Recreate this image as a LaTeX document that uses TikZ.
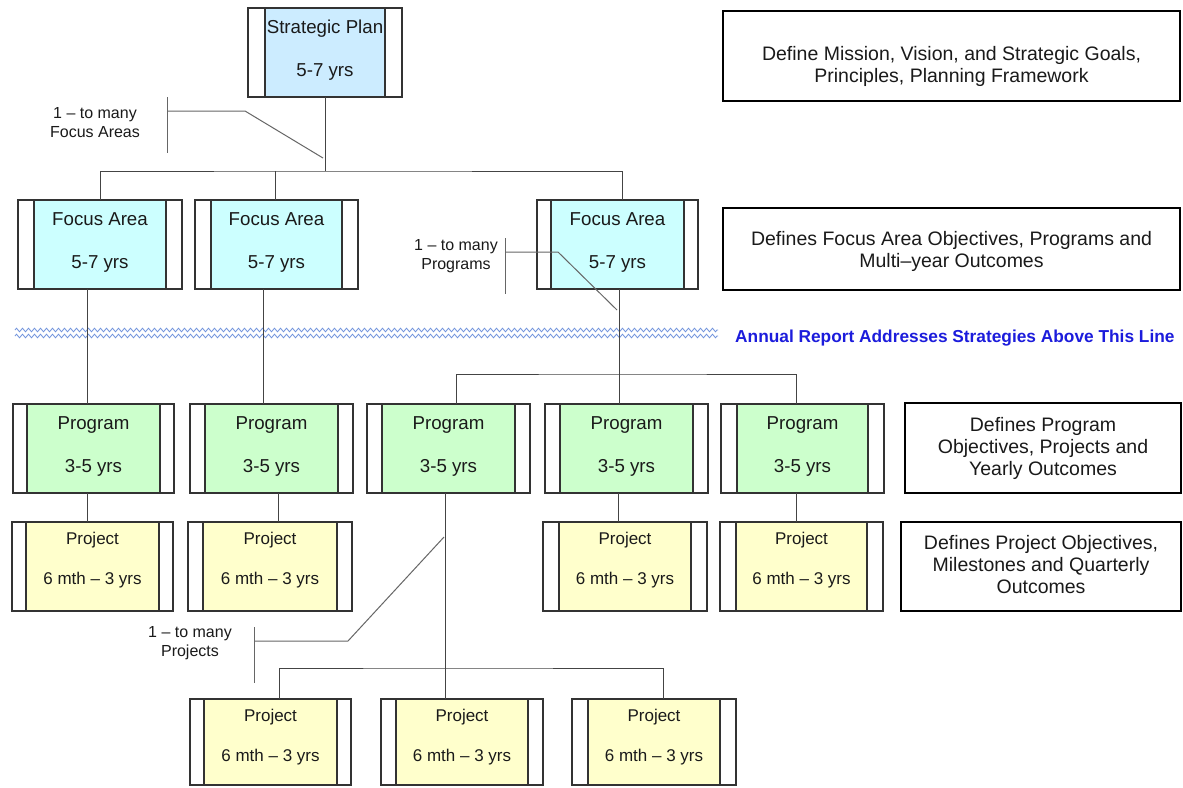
\documentclass[tikz,border=0pt]{standalone}
\usepackage{fontspec}
\setmainfont{Liberation Sans}
\usetikzlibrary{decorations.pathmorphing}

\definecolor{spblue}{HTML}{CCECFF}
\definecolor{facyan}{HTML}{CCFFFF}
\definecolor{pgreen}{HTML}{CCFFCC}
\definecolor{pyellow}{HTML}{FFFFCC}
\definecolor{boxline}{HTML}{333333}
\definecolor{textcol}{HTML}{1A1A1A}
\definecolor{linegray}{HTML}{444444}
\definecolor{notegray}{HTML}{666666}
\definecolor{wavecol}{RGB}{110,145,220}
\definecolor{annualblue}{RGB}{28,28,220}

\tikzset{
  proc/.style 2 args={draw=boxline, line width=1.1pt, fill=white, inner sep=0pt,
    outer sep=0pt, anchor=north west,
    path picture={
      \fill[#1] ([xshift=#2pt]path picture bounding box.south west)
        rectangle ([xshift=-#2pt]path picture bounding box.north east);
      \draw[boxline, line width=1.1pt]
        ([xshift=#2pt]path picture bounding box.south west) --
        ([xshift=#2pt]path picture bounding box.north west)
        ([xshift=-#2pt]path picture bounding box.south east) --
        ([xshift=-#2pt]path picture bounding box.north east);
    }},
  boxtext/.style={anchor=base, inner sep=0pt, text=textcol,
    font=\fontsize{18.7}{22}\selectfont},
  projtext/.style={anchor=base, inner sep=0pt, text=textcol,
    font=\fontsize{17}{20}\selectfont},
  descbox/.style={draw=black, line width=2.2pt, fill=white, inner sep=0pt,
    outer sep=0pt, anchor=north west},
  desctext/.style={align=center, inner sep=0pt, text=textcol,
    font=\fontsize{19.5}{22}\selectfont},
  notetext/.style={align=center, inner sep=0pt, text=textcol,
    font=\fontsize{16}{19}\selectfont},
  conn/.style={draw=linegray, line width=1pt},
  note/.style={draw=notegray, line width=1pt},
  wave/.style={draw=wavecol, line width=0.8pt,
    decorate, decoration={zigzag, segment length=6pt, amplitude=1.8pt}},
}

% name, fill, inset, left, top, width, height, first line, second line
\newcommand\procbox[9]{%
  \node[proc={#2}{#3}, minimum width=#6pt, minimum height=#7pt] (#1) at (#4,#5) {};
  \node[boxtext] (#1-a) at ({#4+#6/2},{#5+25}) {#8};
  \node[boxtext] (#1-b) at ({#4+#6/2},{#5+68}) {#9};
}
% name, inset, left, top, width, height
\newcommand\projbox[6]{%
  \node[proc={pyellow}{#2}, minimum width=#5pt, minimum height=#6pt] (#1) at (#3,#4) {};
  \node[projtext] (#1-a) at ({#3+#5/2},{#4+22}) {Project};
  \node[projtext] (#1-b) at ({#3+#5/2},{#4+62}) {6 mth \textendash{} 3 yrs};
}

\begin{document}
\begin{tikzpicture}[x=1pt, y=-1pt]
\useasboundingbox (0,0) rectangle (1183,787);
\fill[white] (0,0) rectangle (1183,787);

% dividing line for the annual report
\coordinate (wl1) at (15,330);  \coordinate (wr1) at (718,330);
\coordinate (wl2) at (15,336);  \coordinate (wr2) at (718,336);
\draw[wave] (wl1) -- (wr1);
\draw[wave] (wl2) -- (wr2);
\node[anchor=west, inner sep=0pt, text=annualblue,
  font=\fontsize{17.3}{20}\selectfont\bfseries] (annual) at (735,338)
  {Annual Report Addresses Strategies Above This Line};

% hierarchy boxes
\procbox{sp}{spblue}{17}{248}{8}{154}{89}{Strategic Plan}{5-7 yrs}

\procbox{fa1}{facyan}{16}{18}{200}{164}{89}{Focus Area}{5-7 yrs}
\procbox{fa2}{facyan}{16}{195}{200}{163}{89}{Focus Area}{5-7 yrs}
\procbox{fa3}{facyan}{14}{537}{200}{161}{89}{Focus Area}{5-7 yrs}

\procbox{p1}{pgreen}{14}{13}{404}{161}{89}{Program}{3-5 yrs}
\procbox{p2}{pgreen}{15}{190}{404}{163}{89}{Program}{3-5 yrs}
\procbox{p3}{pgreen}{15}{367}{404}{163}{89}{Program}{3-5 yrs}
\procbox{p4}{pgreen}{15}{545}{404}{163}{89}{Program}{3-5 yrs}
\procbox{p5}{pgreen}{16}{721}{404}{163}{89}{Program}{3-5 yrs}

\projbox{pj1}{14}{12}{522}{161}{89}
\projbox{pj2}{15}{188}{522}{164}{89}
\projbox{pj4}{16}{543}{522}{164}{89}
\projbox{pj5}{16}{720}{522}{163}{89}

\projbox{pb1}{14}{190}{699}{161}{86}
\projbox{pb2}{15}{381}{699}{162}{86}
\projbox{pb3}{16}{572}{699}{164}{86}

% strategic plan to focus areas
\coordinate (spbar) at (325,171);
\draw[conn] (sp.south) -- (spbar);
\draw[conn] (fa1.north) |- (spbar) -| (fa3.north -| 622,0);
\draw[conn] (fa2.north -| 275,0) -- (275,171);

% focus areas to programs
\draw[conn] (fa1.south -| 87,0) -- (p1.north -| 87,0);
\draw[conn] (fa2.south -| 263,0) -- (p2.north -| 263,0);
\coordinate (pbar) at (619,374);
\draw[conn] (fa3.south -| pbar) -- (p4.north -| pbar);
\draw[conn] (p3.north -| 456,0) |- (pbar) -| (p5.north -| 796,0);

% programs to projects
\draw[conn] (p1.south -| 87,0) -- (pj1.north -| 87,0);
\draw[conn] (p2.south -| 278,0) -- (pj2.north -| 278,0);
\draw[conn] (p4.south -| 618,0) -- (pj4.north -| 618,0);
\draw[conn] (p5.south -| 796,0) -- (pj5.north -| 796,0);
\coordinate (pjbar) at (445,668);
\draw[conn] (p3.south -| pjbar) -- (pb2.north -| pjbar);
\draw[conn] (pb1.north -| 279,0) |- (pjbar) -| (pb3.north -| 663,0);

% one-to-many notes
\coordinate (n1top) at (167,97);  \coordinate (n1bot) at (167,153);
\coordinate (n1arm) at (167,111); \coordinate (n1knee) at (245,111);
\coordinate (n1tip) at (323,158);
\draw[note] (n1top) -- (n1bot);
\draw[note] (n1arm) -- (n1knee) -- (n1tip);
\node[notetext] (n1) at (95,123) {1 \textendash{} to many\\Focus Areas};

\coordinate (n2top) at (505,238); \coordinate (n2bot) at (505,294);
\coordinate (n2arm) at (505,252); \coordinate (n2knee) at (558,252);
\coordinate (n2tip) at (617,310);
\draw[note] (n2top) -- (n2bot);
\draw[note] (n2arm) -- (n2knee) -- (n2tip);
\node[notetext] (n2) at (456,256) {1 \textendash{} to many\\Programs};

\coordinate (n3top) at (254,627); \coordinate (n3bot) at (254,683);
\coordinate (n3arm) at (254,641); \coordinate (n3knee) at (348,641);
\coordinate (n3tip) at (444,537);
\draw[note] (n3top) -- (n3bot);
\draw[note] (n3arm) -- (n3knee) -- (n3tip);
\node[notetext] (n3) at (190,643) {1 \textendash{} to many\\Projects};

% level descriptions
\node[descbox, minimum width=457pt, minimum height=90pt] (da) at (723,11) {};
\node[desctext] (da-t) at (951.5,66)
  {Define Mission, Vision, and Strategic Goals,\\Principles, Planning Framework};
\node[descbox, minimum width=457pt, minimum height=82pt] (db) at (723,208) {};
\node[desctext] (db-t) at (951.5,251)
  {Defines Focus Area Objectives, Programs and\\Multi\textendash year Outcomes};
\node[descbox, minimum width=276pt, minimum height=90pt] (dc) at (905,403) {};
\node[desctext] (dc-t) at (1043,448)
  {Defines Program\\Objectives, Projects and\\Yearly Outcomes};
\node[descbox, minimum width=280pt, minimum height=89pt] (dd) at (901,522) {};
\node[desctext] (dd-t) at (1041,565)
  {Defines Project Objectives,\\Milestones and Quarterly\\Outcomes};
\end{tikzpicture}
\end{document}
